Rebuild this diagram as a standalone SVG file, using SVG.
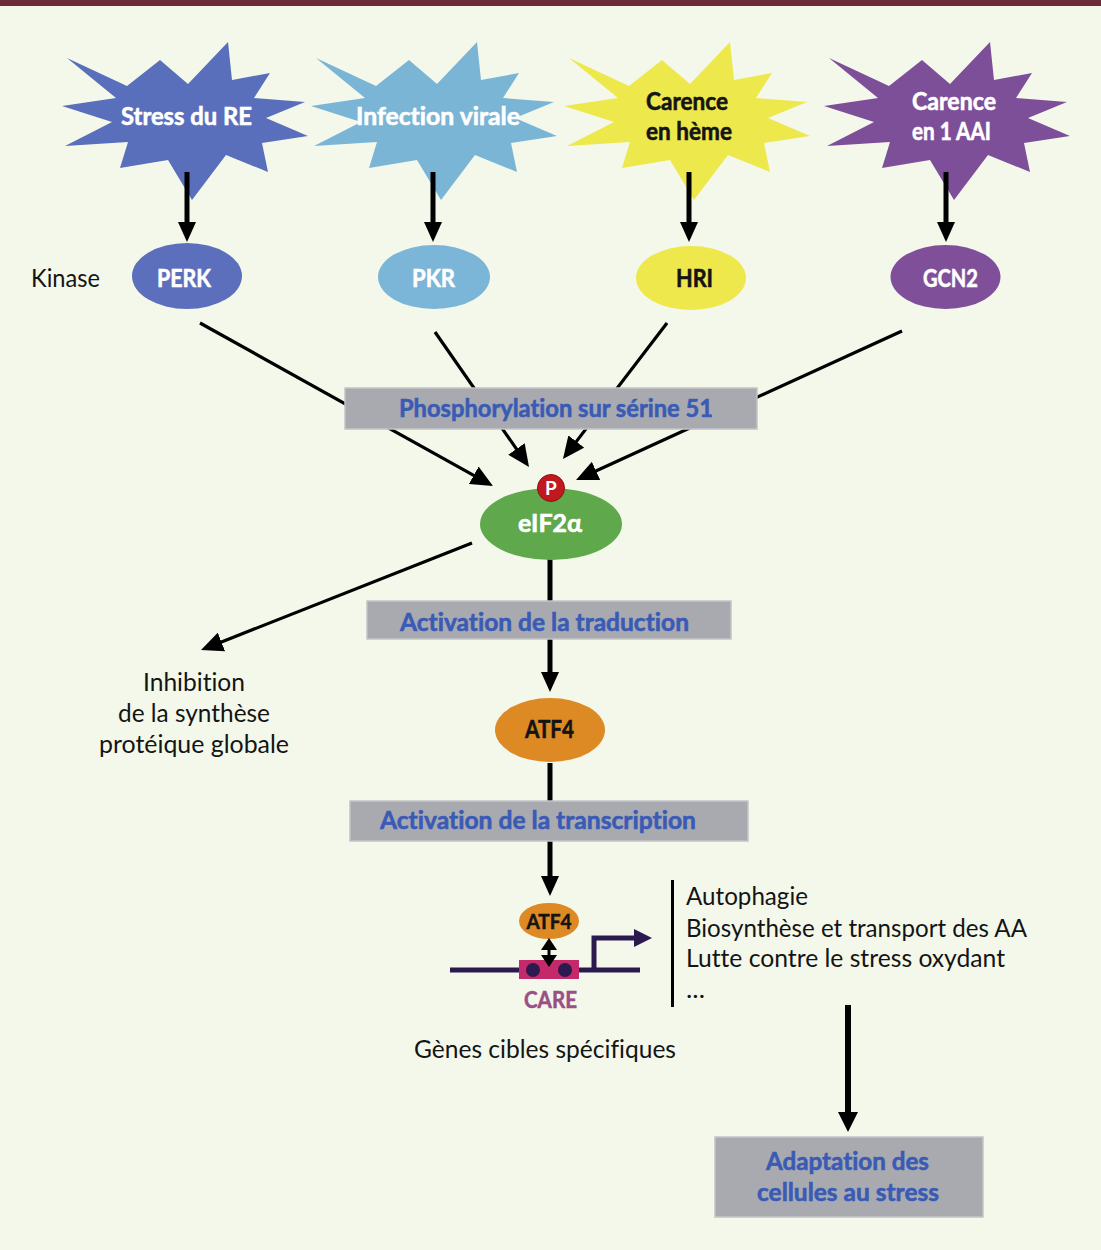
<svg xmlns="http://www.w3.org/2000/svg" width="1101" height="1250" viewBox="0 0 1101 1250">
<style>
text{font-family:Lato,"Open Sans","DejaVu Sans",sans-serif;font-variant-ligatures:none;font-feature-settings:"liga" 0,"dlig" 0}
.lb{font-weight:700;font-size:25px;stroke-width:0.6}
.w{fill:#ffffff;stroke:#ffffff}
.k{fill:#141414;stroke:#141414}
.bl{fill:#3a5bb5;stroke:#3a5bb5}
.n{font-weight:400;font-size:25px;fill:#141414}
.box{fill:#a9aaaf;stroke:#c3c4c7;stroke-width:1.5}
.thick{stroke:#000;stroke-width:5;fill:none}
.thin{stroke:#000;stroke-width:3.2;fill:none}
</style>
<defs>
<path id="star" d="M67,58 L127,86 L160,60 L188,84 L228,42 L232,80 L270,73 L254,98 L305,102 L266,118 L308,136 L262,143 L268,172 L226,155 L192,200 L168,160 L120,168 L128,142 L65,146 L112,122 L62,106 L116,98 Z"/>
<marker id="ah" viewBox="0 0 20 18" refX="2" refY="9" markerWidth="20" markerHeight="18" markerUnits="userSpaceOnUse" orient="auto">
<path d="M0,0 L20,9 L0,18 Z" fill="#000"/>
</marker>
<marker id="ahs" viewBox="0 0 22 20" refX="2" refY="10" markerWidth="22" markerHeight="20" markerUnits="userSpaceOnUse" orient="auto">
<path d="M0,0 L22,10 L0,20 Z" fill="#000"/>
</marker>
<marker id="ahb" viewBox="0 0 20 20" refX="2" refY="10" markerWidth="20" markerHeight="20" markerUnits="userSpaceOnUse" orient="auto">
<path d="M0,0 L20,10 L0,20 Z" fill="#000"/>
</marker>
</defs>
<rect x="0" y="0" width="1101" height="1250" fill="#f3f8eb"/>
<rect x="0" y="0" width="1101" height="6" fill="#6b2b3b"/>

<g id="star-stress-re">
<use href="#star" fill="#5a6fbb"/>
<text class="lb w" x="186.5" y="125" text-anchor="middle" textLength="131" lengthAdjust="spacingAndGlyphs">Stress du RE</text>
</g>
<g id="star-infection-virale">
<use href="#star" transform="translate(249,0)" fill="#7ab5d6"/>
<text class="lb w" x="438" y="125" text-anchor="middle" textLength="164" lengthAdjust="spacingAndGlyphs">Infection virale</text>
</g>
<g id="star-carence-heme">
<use href="#star" transform="translate(502,0)" fill="#ede84c"/>
<text class="lb k" x="687" y="110" text-anchor="middle" textLength="82" lengthAdjust="spacingAndGlyphs">Carence</text>
<text class="lb k" x="689" y="140" text-anchor="middle" textLength="86" lengthAdjust="spacingAndGlyphs">en hème</text>
</g>
<g id="star-carence-aai">
<use href="#star" transform="translate(762,0)" fill="#7e4f99"/>
<text class="lb w" x="954" y="110" text-anchor="middle" textLength="84" lengthAdjust="spacingAndGlyphs">Carence</text>
<text class="lb w" x="951.5" y="140" text-anchor="middle" textLength="79" lengthAdjust="spacingAndGlyphs">en 1 AAI</text>
</g>

<g id="label-kinase">
<text class="n" x="31" y="287" textLength="69" lengthAdjust="spacingAndGlyphs">Kinase</text>
</g>
<g id="node-perk">
<ellipse cx="187" cy="276" rx="55" ry="33" fill="#5c6fbc"/>
<text class="lb w" x="184" y="287" text-anchor="middle" textLength="54" lengthAdjust="spacingAndGlyphs">PERK</text>
</g>
<g id="node-pkr">
<ellipse cx="434" cy="277" rx="56" ry="32" fill="#7bb5d7"/>
<text class="lb w" x="433.5" y="287" text-anchor="middle" textLength="43" lengthAdjust="spacingAndGlyphs">PKR</text>
</g>
<g id="node-hri">
<ellipse cx="691" cy="278" rx="55" ry="32" fill="#eee84d"/>
<text class="lb k" x="694.5" y="287" text-anchor="middle" textLength="37" lengthAdjust="spacingAndGlyphs">HRI</text>
</g>
<g id="node-gcn2">
<ellipse cx="945.5" cy="277" rx="55" ry="32" fill="#7f4f9a"/>
<text class="lb w" x="950.5" y="287" text-anchor="middle" textLength="55" lengthAdjust="spacingAndGlyphs">GCN2</text>
</g>

<g id="connectors">
<line class="thick" x1="187" y1="172" x2="187" y2="224" marker-end="url(#ah)"/>
<line class="thick" x1="433" y1="172" x2="433" y2="224" marker-end="url(#ah)"/>
<line class="thick" x1="689" y1="172" x2="689" y2="224" marker-end="url(#ah)"/>
<line class="thick" x1="946" y1="172" x2="946" y2="224" marker-end="url(#ah)"/>
<line class="thin" x1="200" y1="323" x2="475.5" y2="476.3" marker-end="url(#ahs)"/>
<line class="thin" x1="435" y1="332" x2="517.6" y2="450.6" marker-end="url(#ahs)"/>
<line class="thin" x1="667" y1="323" x2="575.1" y2="443.1" marker-end="url(#ahs)"/>
<line class="thin" x1="902" y1="331" x2="594.2" y2="471.7" marker-end="url(#ahs)"/>
<line class="thin" x1="472" y1="543" x2="219.6" y2="642.7" marker-end="url(#ahs)"/>
<line class="thick" x1="550" y1="558" x2="550" y2="602"/>
<line class="thick" x1="550" y1="639" x2="550" y2="674" marker-end="url(#ah)"/>
<line class="thick" x1="550" y1="763" x2="550" y2="802"/>
<line class="thick" x1="550" y1="841" x2="550" y2="878" marker-end="url(#ah)"/>
<line x1="848" y1="1005" x2="848" y2="1114" stroke="#000" stroke-width="6" marker-end="url(#ahb)"/>
</g>

<g id="box-phosphorylation">
<rect class="box" x="345" y="388" width="412" height="41"/>
<text class="lb bl" x="556" y="417" text-anchor="middle" textLength="314" lengthAdjust="spacingAndGlyphs">Phosphorylation sur sérine 51</text>
</g>

<g id="node-eif2a">
<ellipse cx="551" cy="524" rx="71" ry="36" fill="#5fa84b"/>
<text class="lb w" x="550" y="532" text-anchor="middle" textLength="64" lengthAdjust="spacingAndGlyphs">eIF2α</text>
<circle cx="551" cy="488" r="13.5" fill="#c0181e" stroke="#8f1014" stroke-width="1"/>
<text x="551" y="495" text-anchor="middle" font-weight="700" font-size="19" fill="#ffffff">P</text>
</g>

<g id="label-inhibition">
<text class="n" x="194" y="691" text-anchor="middle" textLength="102" lengthAdjust="spacingAndGlyphs">Inhibition</text>
<text class="n" x="194" y="722" text-anchor="middle" textLength="152" lengthAdjust="spacingAndGlyphs">de la synthèse</text>
<text class="n" x="194" y="753" text-anchor="middle" textLength="190" lengthAdjust="spacingAndGlyphs">protéique globale</text>
</g>

<g id="box-traduction">
<rect class="box" x="367" y="601" width="364" height="38"/>
<text class="lb bl" x="544.5" y="631" text-anchor="middle" textLength="289" lengthAdjust="spacingAndGlyphs">Activation de la traduction</text>
</g>

<g id="node-atf4">
<ellipse cx="550" cy="730" rx="55" ry="32" fill="#dd8a24"/>
<text class="lb k" x="549.5" y="738" text-anchor="middle" textLength="49" lengthAdjust="spacingAndGlyphs">ATF4</text>
</g>

<g id="box-transcription">
<rect class="box" x="350" y="801" width="398" height="40"/>
<text class="lb bl" x="538" y="829" text-anchor="middle" textLength="316" lengthAdjust="spacingAndGlyphs">Activation de la transcription</text>
</g>

<g id="gene-care">
<line x1="450" y1="970" x2="640" y2="970" stroke="#2b1a4d" stroke-width="5"/>
<path d="M594,970 V938 H636" fill="none" stroke="#2b1a4d" stroke-width="5"/>
<path d="M634,929 L652,938 L634,947 Z" fill="#2b1a4d"/>
<rect x="519" y="960" width="60" height="19" fill="#c42a6b"/>
<circle cx="533" cy="970" r="7" fill="#2b1a4d"/>
<circle cx="565" cy="970" r="7" fill="#2b1a4d"/>
<ellipse cx="549" cy="921" rx="30" ry="18" fill="#dd8a24"/>
<text x="549" y="929" text-anchor="middle" font-weight="700" font-size="20" fill="#141414" stroke="#141414" stroke-width="0.5" textLength="45" lengthAdjust="spacingAndGlyphs">ATF4</text>
<line x1="549" y1="946" x2="549" y2="958" stroke="#000" stroke-width="3"/>
<path d="M541,950 L549,938 L557,950 Z" fill="#000"/>
<path d="M541,955 L549,967 L557,955 Z" fill="#000"/>
<text x="550.5" y="1008" text-anchor="middle" font-weight="700" font-size="22" fill="#9b4f84" stroke="#9b4f84" stroke-width="0.5" textLength="53" lengthAdjust="spacingAndGlyphs">CARE</text>
</g>

<g id="label-genes">
<text class="n" x="545" y="1058" text-anchor="middle" textLength="262" lengthAdjust="spacingAndGlyphs">Gènes cibles spécifiques</text>
</g>

<g id="list-targets">
<line x1="672.5" y1="880" x2="672.5" y2="1007" stroke="#000" stroke-width="3"/>
<text class="n" x="686" y="905" textLength="122" lengthAdjust="spacingAndGlyphs">Autophagie</text>
<text class="n" x="686" y="937" textLength="341" lengthAdjust="spacingAndGlyphs">Biosynthèse et transport des AA</text>
<text class="n" x="686" y="967" textLength="319" lengthAdjust="spacingAndGlyphs">Lutte contre le stress oxydant</text>
<text class="n" x="686" y="998" textLength="19" lengthAdjust="spacingAndGlyphs">...</text>
</g>

<g id="box-adaptation">
<rect class="box" x="715" y="1137" width="268" height="80"/>
<text class="lb bl" x="847.5" y="1170" text-anchor="middle" textLength="163" lengthAdjust="spacingAndGlyphs">Adaptation des</text>
<text class="lb bl" x="848" y="1201" text-anchor="middle" textLength="182" lengthAdjust="spacingAndGlyphs">cellules au stress</text>
</g>
</svg>
